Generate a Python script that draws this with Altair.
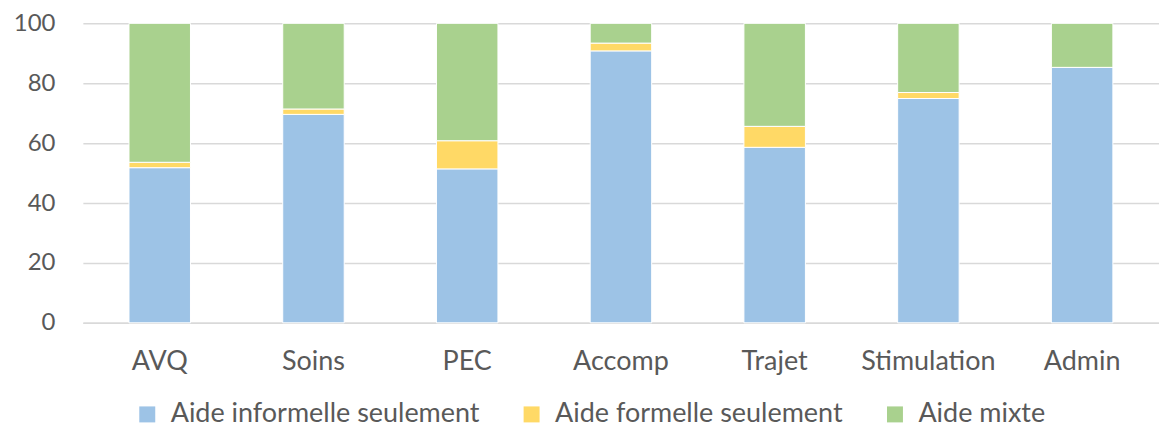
import altair as alt
import pandas as pd

categories = ["AVQ", "Soins", "PEC", "Accomp", "Trajet", "Stimulation", "Admin"]
series = ["Aide informelle seulement", "Aide formelle seulement", "Aide mixte"]
informelle = [51.8, 69.6, 51.4, 90.8, 58.6, 74.9, 85.3]
formelle = [1.8, 1.8, 9.4, 2.6, 7.0, 2.0, 0.0]
mixte = [round(100 - a - b, 1) for a, b in zip(informelle, formelle)]
colors = ["#9DC3E6", "#FFD966", "#A9D18E"]

rows = []
for i, c in enumerate(categories):
    for k, (s, vals) in enumerate(zip(series, [informelle, formelle, mixte])):
        rows.append({"cat": c, "serie": s, "val": vals[i], "ord": k})
df = pd.DataFrame(rows)

FONT = "Lato"
TXT = "#595959"

chart = alt.Chart(df).mark_bar(stroke="white", strokeWidth=1).encode(
    x=alt.X("cat:N", sort=categories, title=None,
            scale=alt.Scale(paddingInner=0.6, paddingOuter=0.3),
            axis=alt.Axis(labelAngle=0, labelFontSize=27, labelFont=FONT, labelColor=TXT,
                          ticks=False, domainColor="#D9D9D9", domainWidth=1.5,
                          labelPadding=26, grid=False)),
    y=alt.Y("val:Q", stack="zero", title=None,
            scale=alt.Scale(domain=[0, 100], nice=False),
            axis=alt.Axis(values=[0, 20, 40, 60, 80, 100], labelFontSize=24, labelFont=FONT,
                          labelColor=TXT, ticks=False, domain=False, gridColor="#D9D9D9",
                          gridWidth=1.5, labelPadding=28)),
    color=alt.Color("serie:N", sort=series, title=None,
                    scale=alt.Scale(domain=series, range=colors),
                    legend=alt.Legend(orient="none", legendX=51, legendY=378,
                                      direction="horizontal", symbolType="square",
                                      symbolSize=256, symbolStrokeWidth=0, labelFontSize=27,
                                      labelFont=FONT, labelColor=TXT, columnPadding=38,
                                      labelOffset=10, labelLimit=400)),
    order=alt.Order("ord:Q"),
).properties(
    width=1078, height=300,
    padding={"left": 5, "top": 3, "right": 0, "bottom": 0},
).configure_view(stroke=None)

chart.save("out.html", embed_options={"renderer": "svg", "actions": False})
